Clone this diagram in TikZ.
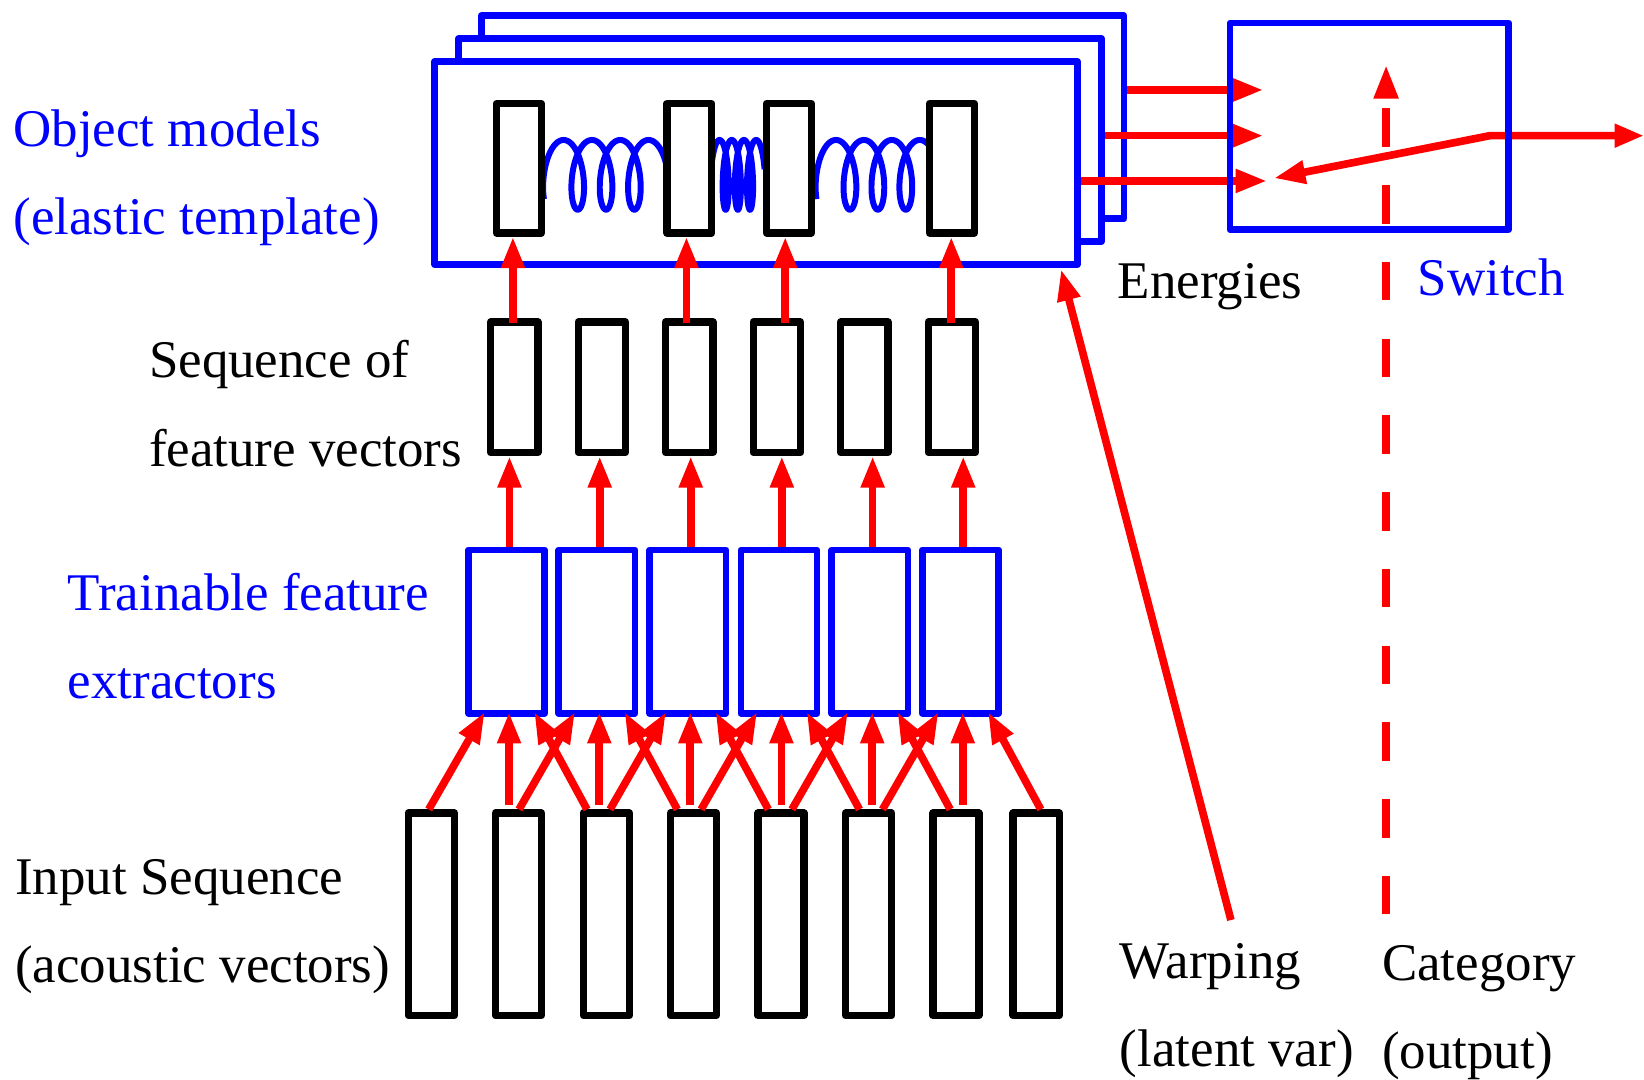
\documentclass[tikz,border=0pt]{standalone}
\usepackage{fontspec}
\setmainfont{Liberation Serif}
\usetikzlibrary{arrows.meta,calc}
\definecolor{pblue}{RGB}{0,0,255}
\definecolor{pred}{RGB}{255,0,0}
\begin{document}
\begin{tikzpicture}[x=1pt,y=-1pt,
  lbl/.style={anchor=base west, inner sep=0pt, font=\fontsize{50.5}{60}\selectfont},
  bbox/.style={draw=black, line width=7pt, fill=white, rectangle, inner sep=0pt, outer sep=3.5pt, line join=round},
  tbox/.style={bbox, minimum width=42.8pt, minimum height=123.3pt},
  fvbox/.style={bbox, minimum width=45pt, minimum height=124.4pt},
  inbox/.style={bbox, minimum width=44pt, minimum height=193pt},
  febox/.style={draw=pblue, line width=6.3pt, fill=white, rectangle, inner sep=0pt, outer sep=3.15pt, line join=round, minimum width=72.7pt, minimum height=155.8pt},
  tmpl/.style={draw=pblue, line width=6.3pt, fill=white, rectangle, inner sep=0pt, outer sep=3.15pt, line join=round, minimum width=613pt, minimum height=193.5pt},
  swbox/.style={draw=pblue, line width=6.3pt, rectangle, inner sep=0pt, outer sep=3.15pt, line join=round, minimum width=266pt, minimum height=197pt},
  arr/.style={draw=pred, line width=7.3pt, -{Triangle[length=30pt,width=21pt]}},
  arrtwo/.style={draw=pred, line width=7.3pt, {Triangle[length=30pt,width=21pt]}-{Triangle[length=28pt,width=21pt]}},
  spring/.style={draw=pblue, line width=5.7pt},
]
\useasboundingbox (0,0) rectangle (1568,1030);

% stacked object models
\node[tmpl] (back) at (765.6,111.7) {};
\node[tmpl] (mid) at (744,133.5) {};
\node[tmpl] (front) at (721,155.6) {};

% springs
\draw[spring] plot[domain=0.8:23.405, samples=300, variable=\t] ({524+4.3*\t-12*sin(\t r)},{166.75+33.25*cos(\t r)});
\draw[spring] plot[domain=0.8:23.405, samples=300, variable=\t] ({680.5+1.85*\t-5.5*sin(\t r)},{166.75+33.25*cos(\t r)});
\draw[spring] plot[domain=0.8:23.405, samples=300, variable=\t] ({784+4.24*\t-12*sin(\t r)},{166.75+33.25*cos(\t r)});

% template vectors
\node[tbox] (t1) at (494.9,160.55) {};
\node[tbox] (t2) at (657.5,160.55) {};
\node[tbox] (t3) at (752.5,160.55) {};
\node[tbox] (t4) at (907.9,160.55) {};

% feature vectors
\foreach \i/\x in {1/490.5,2/574,3/657.5,4/740.85,5/824.35,6/907.85}
  \node[fvbox] (fv\i) at (\x,369.3) {};

% feature extractors
\foreach \i/\x in {1/483.2,2/569.3,3/656.1,4/743,5/829.6,6/916}
  \node[febox] (fe\i) at (\x,602.45) {};

% input sequence
\foreach \i/\x in {1/411.4,2/494.45,3/578.3,4/661.35,5/744.8,6/828.45,7/911.7,8/988.3}
  \node[inbox] (in\i) at (\x,872) {};

% arrows: inputs -> extractors
\foreach \i [evaluate=\i as \j using int(\i+1), evaluate=\i as \k using int(\i+2)] in {1,...,6}{
  \coordinate (la\i) at ($(fe\i.south)+(-74.3,0)$);
  \coordinate (va\i) at ($(fe\i.south)+(2.3,0)$);
  \coordinate (ra\i) at ($(fe\i.south)+(76.7,0)$);
  \draw[arr] (la\i |- in\i.north) -- ($(fe\i.south)+(-20.8,-4.5)$);
  \draw[arr] ($(va\i |- in\j.north)+(0,-4)$) -- ($(fe\i.south)+(2.3,-4.5)$);
  \draw[arr] (ra\i |- in\k.north) -- ($(fe\i.south)+(26.3,-4.5)$);
}

% arrows: extractors -> feature vectors
\foreach \i in {1,...,6}{
  \coordinate (ua\i) at ($(fe\i.north)+(2.7,0)$);
  \draw[arr] (ua\i) -- (ua\i |- fv\i.south);
}

% arrows: feature vectors -> template
\coordinate (w1) at ($(fv1.north)+(-1.3,4)$);
\coordinate (w2) at ($(fv3.north)+(-2.8,4)$);
\coordinate (w3) at ($(fv4.north)+(8.05,4)$);
\coordinate (w4) at ($(fv6.north)+(-0.55,4)$);
\draw[arr] (w1) -- (w1 |- t1.south);
\draw[arr] (w2) -- (w2 |- t2.south);
\draw[arr] (w3) -- (w3 |- t3.south);
\draw[arr] (w4) -- (w4 |- t4.south);

% energies
\coordinate (e1) at (1205,85.8);
\coordinate (e2) at (1205,129.4);
\coordinate (e3) at (1208.5,172.6);
\draw[arr] (back.east |- e1) -- (e1);
\draw[arr] (mid.east |- e2) -- (e2);
\draw[arr] (front.east |- e3) -- (e3);

% switch lever and output
\coordinate (piv) at (1421,129.4);
\coordinate (lev) at (1215,170);
\coordinate (outp) at (1568,129.4);
\draw[arrtwo] (lev) -- (piv) -- (outp);

% warping
\coordinate (wst) at (1174,877.5);
\draw[arr] (wst) -- ($(front.south east)+(-18.7,1.3)$);

% category (dashed)
\coordinate (cst) at (1322,872);
\coordinate (ctip) at (1322,62);
\draw[draw=pred, line width=7.3pt, dash pattern=on 36.6pt off 36.6pt, -{Triangle[length=32pt,width=22pt]}] (cst) -- (ctip);

% switch box
\node[swbox] (sw) at (1306,120.5) {};

% labels
\node[lbl, text=pblue] (om1) at (12.7,139.5) {Object models};
\node[lbl, text=pblue] (om2) at (12.7,224) {(elastic template)};
\node[lbl] (sq1) at (142,360) {Sequence of};
\node[lbl] (sq2) at (142,444.5) {feature vectors};
\node[lbl, text=pblue] (tf1) at (64.5,582) {Trainable feature};
\node[lbl, text=pblue] (tf2) at (64.5,666.5) {extractors};
\node[lbl] (is1) at (14.3,853) {Input Sequence};
\node[lbl] (is2) at (14.3,937.5) {(acoustic vectors)};
\node[lbl] (en) at (1066,284.5) {Energies};
\node[lbl, text=pblue] (swl) at (1352,281.5) {Switch};
\node[lbl] (wp1) at (1068,933) {Warping};
\node[lbl] (wp2) at (1068,1017.5) {(latent var)};
\node[lbl] (ct1) at (1318,935) {Category};
\node[lbl] (ct2) at (1318,1019.5) {(output)};
\end{tikzpicture}
\end{document}
